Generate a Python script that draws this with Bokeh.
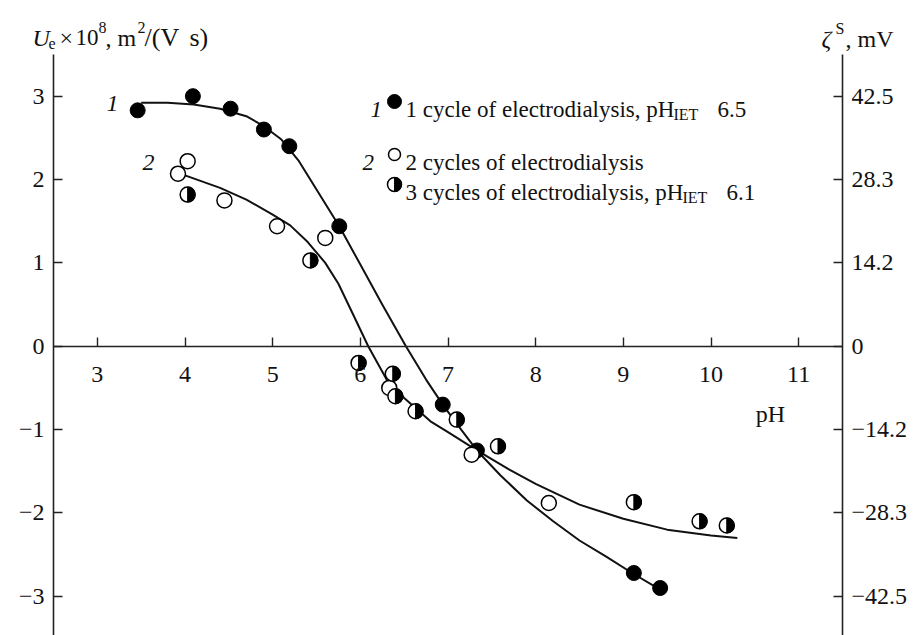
import numpy as np
from bokeh.plotting import figure
from bokeh.models import LinearAxis, FixedTicker, Label, Range1d
from bokeh.embed import file_html
from bokeh.resources import INLINE

# ---------------- data ----------------
ph_1 = [3.46, 4.09, 4.52, 4.90, 5.19, 5.76, 6.94, 7.33, 9.12, 9.42]
u_1 = [2.83, 3.00, 2.85, 2.60, 2.40, 1.44, -0.70, -1.25, -2.72, -2.90]

ph_2 = [3.92, 4.03, 4.45, 5.05, 5.60, 6.33, 7.27, 8.15]
u_2 = [2.07, 2.22, 1.75, 1.44, 1.30, -0.50, -1.30, -1.88]

ph_3 = [4.03, 5.43, 5.98, 6.37, 6.40, 6.63, 7.10, 7.57, 9.12, 9.87, 10.18]
u_3 = [1.82, 1.03, -0.20, -0.33, -0.60, -0.78, -0.88, -1.20, -1.87, -2.10, -2.15]

curve1_ph = [3.5, 3.8, 4.1, 4.4, 4.7, 4.9, 5.1, 5.3, 5.5, 5.76, 6.0, 6.25, 6.52,
             6.75, 6.94, 7.15, 7.33, 7.6, 7.9, 8.2, 8.5, 8.8, 9.1, 9.42]
curve1_u = [2.92, 2.92, 2.90, 2.85, 2.76, 2.64, 2.48, 2.22, 1.88, 1.44, 0.98, 0.50, 0.00,
            -0.40, -0.70, -1.00, -1.25, -1.55, -1.85, -2.10, -2.33, -2.52, -2.72, -2.92]

curve2_ph = [4.0, 4.4, 4.7, 5.0, 5.2, 5.4, 5.6, 5.75, 5.9, 6.09, 6.3, 6.5, 6.8, 7.0,
             7.33, 7.7, 8.0, 8.5, 9.0, 9.5, 10.0, 10.3]
curve2_u = [2.05, 1.90, 1.76, 1.58, 1.45, 1.25, 1.00, 0.75, 0.42, 0.00, -0.40, -0.62,
            -0.90, -1.03, -1.25, -1.48, -1.65, -1.90, -2.07, -2.20, -2.27, -2.30]

x_ticks = [3, 4, 5, 6, 7, 8, 9, 10, 11]
y_ticks = [-3, -2, -1, 0, 1, 2, 3]
u_tick_labels = ["\u22123", "\u22122", "\u22121", "0", "1", "2", "3"]
zeta_tick_labels = ["\u221242.5", "\u221228.3", "\u221214.2", "0", "14.2", "28.3", "42.5"]

# ---------------- geometry ----------------
W, H = 918, 635
AX_L_PX, AX_R_PX, AX_TOP_PX = 53, 842, 54   # pixel positions of the frame lines
PH_MIN, PH_MAX = 2.5, 11.5                   # pH at the two vertical axes
U_TOP = 3.5                                  # U_e at top of vertical axes
PXX = (AX_R_PX - AX_L_PX) / (PH_MAX - PH_MIN)
PXU = 83.36
X_LEFT = PH_MIN - AX_L_PX / PXX
X_RIGHT = PH_MAX + (W - AX_R_PX) / PXX
Y_TOP = U_TOP + AX_TOP_PX / PXU
Y_BOT = U_TOP - (H - AX_TOP_PX) / PXU
FONT = "Liberation Serif"
INK = "#111111"
AXC = "#222222"


def sx(px):
    return X_LEFT + px / PXX


def sy(py):
    return Y_TOP - py / PXU


p = figure(width=W, height=H, output_backend="svg", toolbar_location=None,
           x_range=Range1d(X_LEFT, X_RIGHT), y_range=Range1d(Y_BOT, Y_TOP),
           x_axis_location=None, y_axis_location=None,
           min_border_left=0, min_border_right=0, min_border_top=0, min_border_bottom=0)
p.outline_line_color = None
p.xgrid.visible = False
p.ygrid.visible = False
p.background_fill_color = "white"
p.border_fill_color = "white"


def style_axis(ax, standoff=9):
    ax.axis_line_color = AXC
    ax.axis_line_width = 1.6
    ax.major_tick_line_color = AXC
    ax.major_tick_line_width = 1.4
    ax.minor_tick_line_color = None
    ax.major_label_text_font = FONT
    ax.major_label_text_font_size = "24px"
    ax.major_label_text_color = INK
    ax.major_tick_in = 9
    ax.major_tick_out = 0
    ax.major_label_standoff = standoff


left = LinearAxis(ticker=FixedTicker(ticks=y_ticks), fixed_location=PH_MIN, bounds=(Y_BOT, U_TOP),
                  major_label_overrides={t: s for t, s in zip(y_ticks, u_tick_labels)})
style_axis(left)
p.add_layout(left, "left")

right = LinearAxis(ticker=FixedTicker(ticks=y_ticks), fixed_location=PH_MAX, bounds=(Y_BOT, U_TOP),
                   major_label_overrides={t: s for t, s in zip(y_ticks, zeta_tick_labels)})
style_axis(right)
p.add_layout(right, "right")

bottom = LinearAxis(ticker=FixedTicker(ticks=x_ticks), fixed_location=0, bounds=(PH_MIN, PH_MAX))
style_axis(bottom, standoff=21)
p.add_layout(bottom, "below")

# fitted curves
p.line(curve1_ph, curve1_u, line_color=INK, line_width=2)
p.line(curve2_ph, curve2_u, line_color=INK, line_width=2)

MS = 15
p.scatter(ph_1, u_1, size=MS, marker="circle", fill_color="black", line_color="black")
p.scatter(ph_2, u_2, size=MS, marker="circle", fill_color="white", line_color="black", line_width=1.5)
p.scatter(ph_3, u_3, size=MS, marker="circle", fill_color="white", line_color="black", line_width=1.5)
p.wedge(ph_3, u_3, radius=MS / 2, radius_units="screen", start_angle=-np.pi / 2,
        end_angle=np.pi / 2, fill_color="black", line_color="black", line_width=1)


def lab(text, px, py, size=24, style="normal", baseline="alphabetic", align="left"):
    p.add_layout(Label(x=sx(px), y=sy(py), text=text, text_font=FONT,
                       text_font_size=f"{size}px", text_font_style=style,
                       text_color=INK, text_baseline=baseline, text_align=align))


# curve labels
lab("1", 112, 103, 24, "italic", "middle", "center")
lab("2", 148, 162, 24, "italic", "middle", "center")

# axis titles
lab("U", 32, 37, 24, "italic")
lab("e", 48, 43, 16)
lab("\u00d7", 59, 37, 24)
lab("10", 75, 37, 23)
lab("8", 98, 27, 16)
lab(", m", 105, 37, 24)
lab("2", 137, 27, 16)
lab("/(V", 144, 37, 26)
lab("s)", 189, 37, 26)

lab("\u03b6", 821, 38, 24, "italic")
lab("S", 835, 28, 16)
lab(", mV", 845, 38, 24)

# legend
rows_y = [101, 154, 184]
leg_x = 394
txt_x = 405
p.scatter([sx(leg_x)], [sy(rows_y[0])], size=MS - 1, marker="circle", fill_color="black", line_color="black")
p.scatter([sx(leg_x)], [sy(rows_y[1])], size=MS - 3, marker="circle", fill_color="white",
          line_color="black", line_width=1.5)
p.scatter([sx(leg_x)], [sy(rows_y[2])], size=MS - 1, marker="circle", fill_color="white",
          line_color="black", line_width=1.5)
p.wedge([sx(leg_x)], [sy(rows_y[2])], radius=(MS - 1) / 2, radius_units="screen",
        start_angle=-np.pi / 2, end_angle=np.pi / 2, fill_color="black", line_color="black")

lab("1", 370, rows_y[0] + 8, 23, "italic")
lab("2", 362, rows_y[1] + 8, 23, "italic")
lab("1 cycle of electrodialysis, pH", txt_x, rows_y[0] + 8, 23)
lab("IET", 673, rows_y[0] + 13, 16)
lab("6.5", 717, rows_y[0] + 8, 23)
lab("2 cycles of electrodialysis", txt_x, rows_y[1] + 8, 23)
lab("3 cycles of electrodialysis, pH", txt_x, rows_y[2] + 8, 23)
lab("IET", 682, rows_y[2] + 13, 16)
lab("6.1", 726, rows_y[2] + 8, 23)

# pH axis name
lab("pH", 770, 413, 24, "normal", "middle", "center")

open("out.html", "w").write(file_html(p, INLINE))
